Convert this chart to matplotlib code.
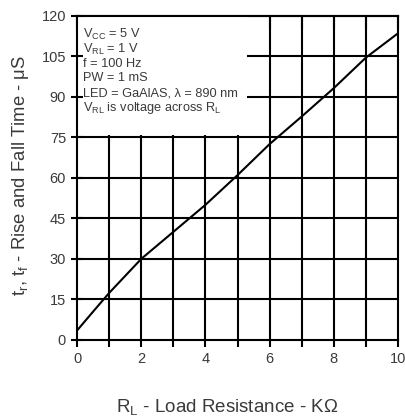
import matplotlib
matplotlib.use("Agg")
import matplotlib.pyplot as plt
from matplotlib.patches import Rectangle

# Rise/fall time versus load resistance
load_kohm = [0, 0.5, 1, 2, 3, 4, 5, 6, 7, 8, 9, 10]
rise_fall_us = [3.5, 10.5, 17.4, 30, 40, 50, 61, 72.5, 82.7, 93.2, 104.5, 113.5]

x_ticks = [0, 2, 4, 6, 8, 10]
y_ticks = [0, 15, 30, 45, 60, 75, 90, 105, 120]

conditions = [
    r"V$_{CC}$ = 5 V",
    r"V$_{RL}$ = 1 V",
    "f = 100 Hz",
    "PW = 1 mS",
    "LED = GaAlAS, λ = 890 nm",
    r"V$_{RL}$ is voltage across R$_{L}$",
]

plt.rcParams["font.family"] = ["Liberation Sans", "DejaVu Sans"]
plt.rcParams["mathtext.fontset"] = "custom"
plt.rcParams["mathtext.rm"] = "Liberation Sans"
plt.rcParams["mathtext.it"] = "Liberation Sans"

TEXT = "#3a3a3a"
LW = 1.5

fig = plt.figure(figsize=(4.06, 4.17), dpi=100)
ax = fig.add_axes([0.19, 0.185, 0.79, 0.777])
ax.set_xlim(0, 10)
ax.set_ylim(0, 120)

# grid drawn by hand so the condition box can sit over it
for xv in range(1, 10):
    ax.axvline(xv, color="black", lw=LW, zorder=1)
for yv in y_ticks[1:-1]:
    ax.axhline(yv, color="black", lw=LW, zorder=1)

ax.add_patch(Rectangle((0, 76), 5.3, 44, facecolor="white", edgecolor="none", zorder=1.5))

ax.plot(load_kohm, rise_fall_us, color="black", lw=1.5, zorder=3)

ax.set_xticks(x_ticks)
ax.set_xticks(range(0, 11), minor=True)
ax.set_yticks(y_ticks)
ax.tick_params(axis="x", which="both", direction="out", length=5, width=LW,
               labelsize=10.5, labelcolor=TEXT, pad=4)
ax.tick_params(axis="y", direction="inout", length=8, width=LW,
               labelsize=10.5, labelcolor=TEXT, pad=4)

# inward ticks along the top edge
top = ax.secondary_xaxis("top")
top.set_xticks(range(0, 11))
top.tick_params(direction="in", length=9, width=LW, labeltop=False)
top.spines["top"].set_linewidth(LW)

for s in ax.spines.values():
    s.set_linewidth(LW)
    s.set_zorder(4)

y0 = 113.0
for i, line in enumerate(conditions):
    ax.text(0.17, y0 - i * 5.4, line, fontsize=9.2, color=TEXT, va="center", ha="left", zorder=5)

fig.text(0.56, 0.024, r"R$_{L}$ - Load Resistance - KΩ", fontsize=13.5, color=TEXT,
         ha="center", va="center")
fig.text(0.05, 0.58, r"t$_{r}$, t$_{f}$ - Rise and Fall Time - μS", fontsize=13.3, color=TEXT,
         ha="center", va="center", rotation=90)

fig.savefig("out.png", dpi=100)
